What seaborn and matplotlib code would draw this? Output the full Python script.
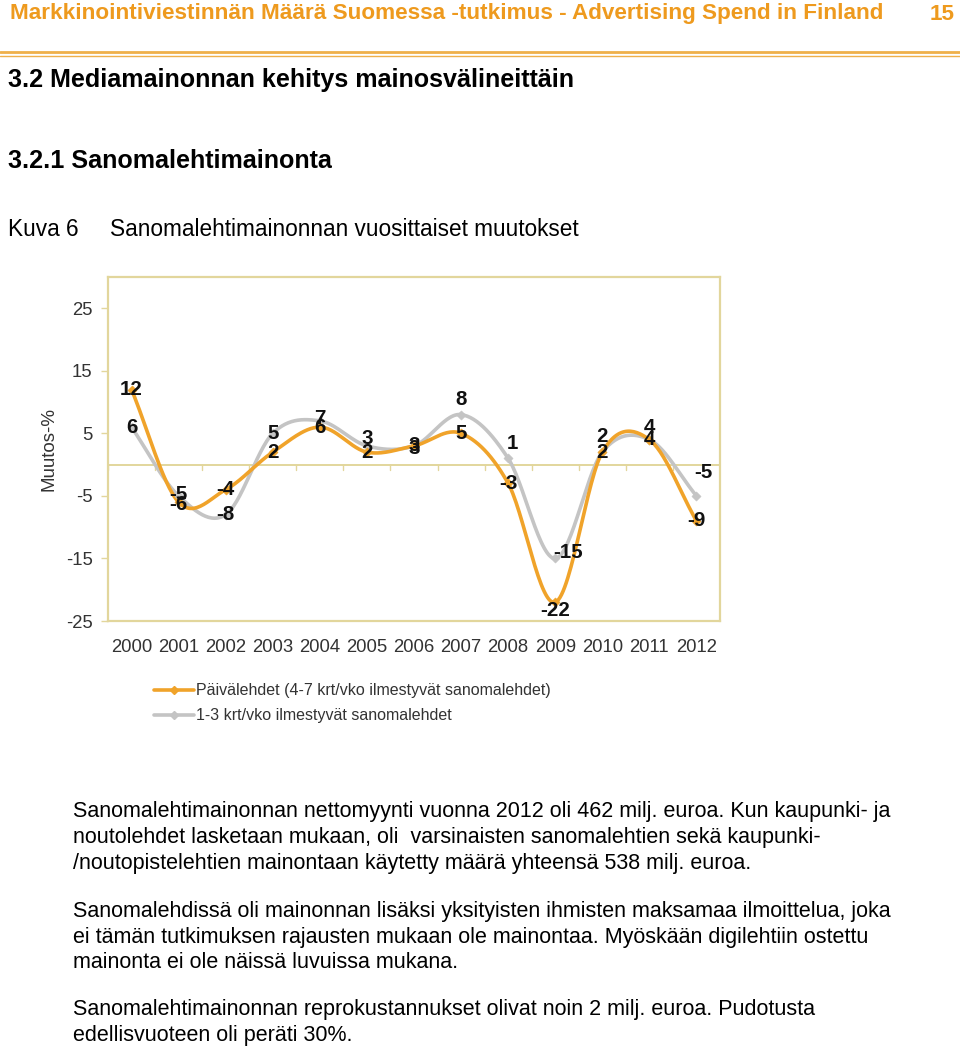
import numpy as np
import pandas as pd
import matplotlib
matplotlib.use("Agg")
import matplotlib.pyplot as plt
import seaborn as sns
from matplotlib.lines import Line2D

# ---- data ----
years = ["2000", "2001", "2002", "2003", "2004", "2005", "2006",
         "2007", "2008", "2009", "2010", "2011", "2012"]
paivalehdet = [12, -6, -4, 2, 6, 2, 3, 5, -3, -22, 2, 4, -9]
harvat = [6, -5, -8, 5, 7, 3, 3, 8, 1, -15, 2, 4, -5]
series_names = ["Päivälehdet (4-7 krt/vko ilmestyvät sanomalehdet)",
                "1-3 krt/vko ilmestyvät sanomalehdet"]
y_ticks = [25, 15, 5, -5, -15, -25]

# label offsets (points) – style only
off_orange = [[0, 0] for _ in range(13)]
off_orange[9] = [0, -6]
off_orange[1] = [0, -2]
off_gray = [(0, 0), (0, 1), (0, 0), (0, 0), (0, 2), (0, 5), (0, -2),
            (0, 11), (3, 11), (9, 4), (0, 11), (0, 9), (5, 17)]

W, H = 960, 1050
sns.set_theme(style="white")
plt.rcParams['font.family'] = ['Liberation Sans', 'DejaVu Sans']
fig = plt.figure(figsize=(W / 100, H / 100), dpi=100)


def fx(x):
    return x / W


def fy(y):
    return 1 - y / H


ORANGE = "#F0A32A"
GRAY = "#C4C4C4"
FRAME = "#E2D69C"
TXT = "#333333"

# ---- header ----
fig.text(fx(10), fy(14), "Markkinointiviestinnän Määrä Suomessa -tutkimus - Advertising Spend in Finland",
         color="#EE9A1E", fontsize=16.2, fontweight="bold", va="center", ha="left")
fig.text(fx(955), fy(14), "15", color="#EE9A1E", fontsize=16.2, fontweight="bold",
         va="center", ha="right")
fig.add_artist(Line2D([0, 1], [fy(51.5), fy(51.5)], color="#EFB04A", lw=2.0))
fig.add_artist(Line2D([0, 1], [fy(55.5), fy(55.5)], color="#EFB04A", lw=1.0))

fig.text(fx(8), fy(80), "3.2 Mediamainonnan kehitys mainosvälineittäin", color="black",
         fontsize=18.1, fontweight="bold", va="center", ha="left")
fig.text(fx(8), fy(161), "3.2.1 Sanomalehtimainonta", color="black",
         fontsize=18.1, fontweight="bold", va="center", ha="left")
fig.text(fx(8), fy(230), "Kuva 6", color="black", fontsize=16.3, va="center", ha="left")
fig.text(fx(110), fy(230), "Sanomalehtimainonnan vuosittaiset muutokset", color="black",
         fontsize=16.3, va="center", ha="left")

# ---- chart ----
ax = fig.add_axes([fx(108), fy(621), fx(720) - fx(108), fy(277) - fy(621)])
ax.set_facecolor("white")
x = np.arange(len(years))


def smooth(xs, ys, n=30):
    xs = np.asarray(xs, float)
    ys = np.asarray(ys, float)
    P = np.column_stack([xs, ys])
    P = np.vstack([2 * P[0] - P[1], P, 2 * P[-1] - P[-2]])
    out = []
    for i in range(1, len(P) - 2):
        p0, p1, p2, p3 = P[i - 1], P[i], P[i + 1], P[i + 2]
        t = np.linspace(0, 1, n, endpoint=False)[:, None]
        seg = 0.5 * ((2 * p1) + (-p0 + p2) * t + (2 * p0 - 5 * p1 + 4 * p2 - p3) * t ** 2
                     + (-p0 + 3 * p1 - 3 * p2 + p3) * t ** 3)
        out.append(seg)
    out.append(P[-2][None, :])
    out = np.vstack(out)
    return out[:, 0], out[:, 1]


for vals, col, name in [(harvat, GRAY, series_names[1]), (paivalehdet, ORANGE, series_names[0])]:
    sx, sy = smooth(x, vals)
    sns.lineplot(x=sx, y=sy, ax=ax, color=col, lw=2.6, sort=False, estimator=None)
    sns.scatterplot(x=x, y=vals, ax=ax, color=col, marker="D", s=22, edgecolor=col, zorder=3)

ax.axhline(0, color=FRAME, lw=1.4, zorder=1)
for xi in np.arange(-0.5, 13, 1):
    ax.plot([xi, xi], [0, -0.9], color=FRAME, lw=1.0, zorder=1)

for i, v in enumerate(paivalehdet):
    ax.annotate(str(v), (x[i], v), xytext=off_orange[i], textcoords="offset points",
                ha="center", va="center", fontsize=14.8, fontweight="bold", color="#111111", zorder=5)
for i, v in enumerate(harvat):
    ax.annotate(str(v), (x[i], v), xytext=off_gray[i], textcoords="offset points",
                ha="center", va="center", fontsize=14.8, fontweight="bold", color="#111111", zorder=5)

ax.set_xlim(-0.5, 12.5)
ax.set_ylim(-25, 30)
ax.set_yticks(y_ticks)
ax.set_yticklabels([str(t) for t in y_ticks], fontsize=13.3, color=TXT)
ax.set_xticks(x)
ax.set_xticklabels(years, fontsize=13.3, color=TXT)
ax.tick_params(axis="x", length=0, pad=13)
ax.tick_params(axis="y", length=5, color=FRAME, width=1, pad=6, left=True)
for s in ax.spines.values():
    s.set_visible(True)
    s.set_color(FRAME)
    s.set_linewidth(1.6)
ax.set_ylabel("Muutos-%", fontsize=13.5, color=TXT, labelpad=6)
ax.set_xlabel("")

handles = [Line2D([], [], color=ORANGE, lw=2.6, marker="D", ms=4.5),
           Line2D([], [], color=GRAY, lw=2.6, marker="D", ms=4.5)]
fig.legend(handles, series_names, loc="upper left", bbox_to_anchor=(fx(140), fy(669)),
           frameon=False, fontsize=11.5, handlelength=2.5, handletextpad=0.1,
           labelspacing=0.62, labelcolor=TXT)

# ---- body text ----
body = [
    (812, "Sanomalehtimainonnan nettomyynti vuonna 2012 oli 462 milj. euroa. Kun kaupunki- ja"),
    (838, "noutolehdet lasketaan mukaan, oli  varsinaisten sanomalehtien sekä kaupunki-"),
    (863, "/noutopistelehtien mainontaan käytetty määrä yhteensä 538 milj. euroa."),
    (911, "Sanomalehdissä oli mainonnan lisäksi yksityisten ihmisten maksamaa ilmoittelua, joka"),
    (937, "ei tämän tutkimuksen rajausten mukaan ole mainontaa. Myöskään digilehtiin ostettu"),
    (962, "mainonta ei ole näissä luvuissa mukana."),
    (1010, "Sanomalehtimainonnan reprokustannukset olivat noin 2 milj. euroa. Pudotusta"),
    (1036, "edellisvuoteen oli peräti 30%."),
]
for yy, t in body:
    fig.text(fx(73), fy(yy), t, fontsize=15.5, color="black", va="center", ha="left")

fig.savefig("out.png", dpi=100)
